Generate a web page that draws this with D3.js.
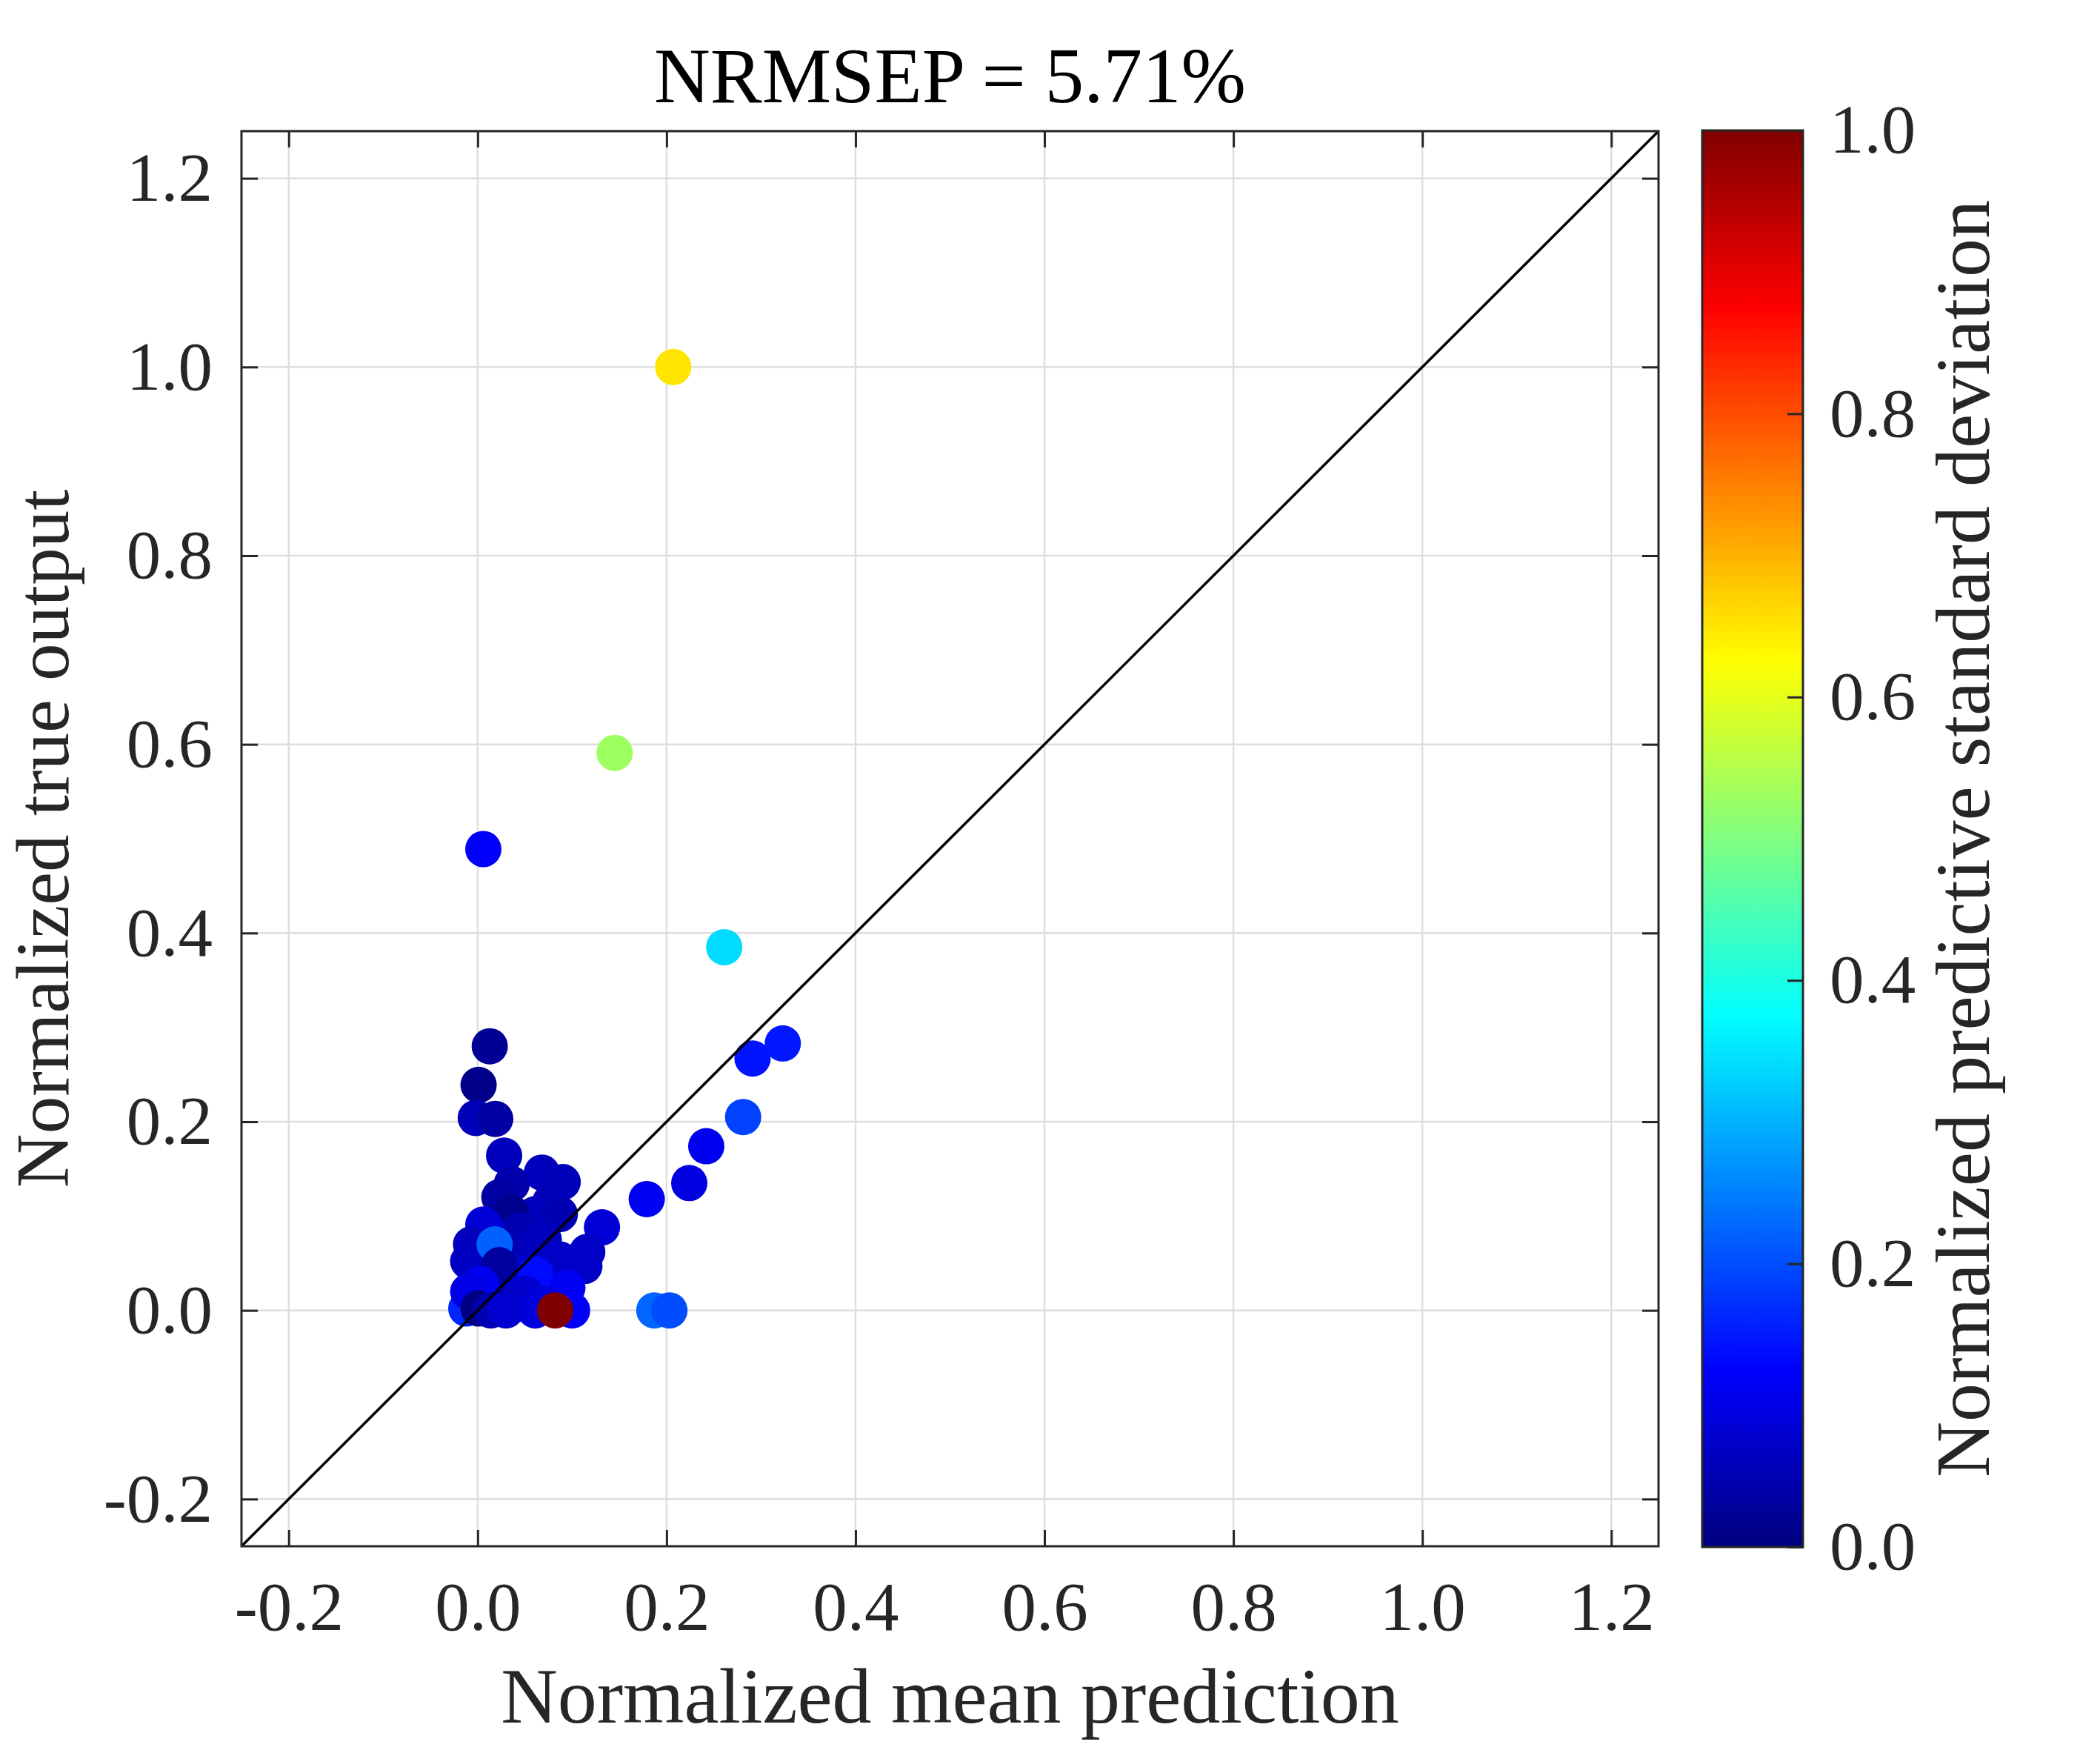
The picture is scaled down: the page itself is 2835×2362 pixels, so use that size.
<!DOCTYPE html>
<html>
<head>
<meta charset="utf-8">
<title>NRMSEP scatter</title>
<style>
  body { margin: 0; background: #fff; }
  text { font-family: "Liberation Serif", "DejaVu Serif", serif; fill: #262626; }
  .grid line { stroke: #dedede; stroke-width: 2.5; }
  .axis line { stroke: #262626; stroke-width: 3; }
  .axis path { display: none; }
  .axis text { font-size: 93px; }
</style>
</head>
<body>
<svg width="2835" height="2362"></svg>
<script src="https://d3js.org/d3.v7.min.js"></script>
<script>
// mean prediction (x), true output (y), predictive std (colour), all normalized
var predMean = [0.207, 0.145, 0.006, 0.261, 0.323, 0.291, 0.281, 0.242, 0.224, 0.179, 0.187, 0.203,
  0.0128, 0.001, -0.002, 0.0186, 0.028, 0.068, 0.090, 0.036, 0.023, 0.077, 0.061, 0.087, 0.035, 0.1316, 0.006,
  0.045, 0.055, 0.030, 0.070, 0.075, 0.040, 0.020, 0.055, 0.075, 0.035, 0.005, 0.015,
  0.010, -0.007, 0.087, 0.116, 0.113, -0.010, 0.018, 0.023, 0.061, 0.003, 0.095, 0.050,
  0.043, 0.069, -0.012, -0.010, 0.001, 0.027, 0.100, 0.061, 0.014, 0.030, 0.082];
var trueOut = [1.000, 0.591, 0.489, 0.385, 0.283, 0.267, 0.205, 0.174, 0.135, 0.118, 0.000, 0.000,
  0.280, 0.239, 0.204, 0.203, 0.164, 0.146, 0.136, 0.134, 0.120, 0.115, 0.102, 0.102, 0.104, 0.088, 0.091,
  0.085, 0.065, 0.060, 0.075, 0.050, 0.040, 0.025, 0.010, 0.020, 0.015, 0.010, 0.035,
  0.086, 0.070, 0.054, 0.062, 0.047, 0.052, 0.070, 0.048, 0.0385, 0.028, 0.024, 0.018,
  0.007, 0.007, 0.002, 0.020, 0.002, 0.002, 0.000, 0.000, 0.000, 0.000, 0.000];
var predStd = [0.65, 0.53, 0.12, 0.34, 0.148, 0.145, 0.19, 0.11, 0.095, 0.115, 0.225, 0.20,
  0.02, 0.01, 0.055, 0.035, 0.06, 0.06, 0.055, 0.045, 0.035, 0.055, 0.06, 0.05, 0.015, 0.085, 0.09,
  0.05, 0.06, 0.05, 0.06, 0.07, 0.08, 0.09, 0.07, 0.10, 0.06, 0.05, 0.07,
  0.085, 0.06, 0.07, 0.07, 0.07, 0.065, 0.22, 0.03, 0.135, 0.11, 0.115, 0.08,
  0.07, 0.09, 0.16, 0.10, 0.0, 0.04, 0.12, 0.09, 0.05, 0.08, 1.0];

var axisTicks = [-0.2, 0, 0.2, 0.4, 0.6, 0.8, 1.0, 1.2];
var cbTicks = [0, 0.2, 0.4, 0.6, 0.8, 1.0];
var titleText = "NRMSEP = 5.71%";

var svg = d3.select("svg");
var L = 326, R = 2239, T = 177, B = 2087;
var cbL = 2298, cbR = 2434, cbT = 176, cbB = 2088;

var x = d3.scaleLinear().domain([-0.25, 1.25]).range([L, R]);
var y = d3.scaleLinear().domain([-0.25, 1.25]).range([B, T]);
var c = d3.scaleLinear().domain([0, 1]).range([cbB, cbT]);

// MATLAB style jet colormap
function jet(v) {
  function ch(t) { return Math.max(0, Math.min(1, 1.5 - Math.abs(4 * t))); }
  var r = ch(v - 0.75), g = ch(v - 0.5), b = ch(v - 0.25);
  return d3.rgb(r * 255, g * 255, b * 255).formatHex();
}

var fmt = function (d) { return d.toFixed(1); };

// grid
var grid = svg.append("g").attr("class", "grid");
grid.selectAll(".gx").data(axisTicks).enter().append("line")
  .attr("x1", d => x(d)).attr("x2", d => x(d)).attr("y1", T).attr("y2", B);
grid.selectAll(".gy").data(axisTicks).enter().append("line")
  .attr("y1", d => y(d)).attr("y2", d => y(d)).attr("x1", L).attr("x2", R);

// points
svg.append("g").selectAll("circle")
  .data(predMean.map((d, i) => ({ x: d, y: trueOut[i], s: predStd[i] })))
  .enter().append("circle")
  .attr("cx", d => x(d.x))
  .attr("cy", d => y(d.y))
  .attr("r", 24.5)
  .attr("fill", d => jet(d.s));

// y = x line
svg.append("line")
  .attr("x1", x(-0.25)).attr("y1", y(-0.25))
  .attr("x2", x(1.25)).attr("y2", y(1.25))
  .attr("stroke", "#000").attr("stroke-width", 3.5);

// axes (ticks inside)
svg.append("g").attr("class", "axis").attr("transform", "translate(0," + B + ")")
  .call(d3.axisBottom(x).tickValues(axisTicks).tickFormat(fmt).tickSize(-22).tickPadding(47));
svg.append("g").attr("class", "axis").attr("transform", "translate(0," + T + ")")
  .call(d3.axisTop(x).tickValues(axisTicks).tickFormat("").tickSize(-22));
svg.append("g").attr("class", "axis").attr("transform", "translate(" + L + ",0)")
  .call(d3.axisLeft(y).tickValues(axisTicks).tickFormat(fmt).tickSize(-22).tickPadding(39));
svg.append("g").attr("class", "axis").attr("transform", "translate(" + R + ",0)")
  .call(d3.axisRight(y).tickValues(axisTicks).tickFormat("").tickSize(-22));

svg.append("rect")
  .attr("x", L).attr("y", T).attr("width", R - L).attr("height", B - T)
  .attr("fill", "none").attr("stroke", "#262626").attr("stroke-width", 3);

// colorbar
var grad = svg.append("defs").append("linearGradient")
  .attr("id", "jet").attr("x1", 0).attr("y1", 1).attr("x2", 0).attr("y2", 0);
grad.selectAll("stop").data(d3.range(0, 1.0001, 1 / 64)).enter().append("stop")
  .attr("offset", d => d).attr("stop-color", d => jet(d));
svg.append("rect")
  .attr("x", cbL).attr("y", cbT).attr("width", cbR - cbL).attr("height", cbB - cbT)
  .attr("fill", "url(#jet)").attr("stroke", "#262626").attr("stroke-width", 3);
svg.append("g").attr("class", "axis").attr("transform", "translate(" + cbR + ",0)")
  .call(d3.axisRight(c).tickValues(cbTicks).tickFormat(fmt).tickSize(-21).tickPadding(36));

// texts
svg.append("text").attr("x", (L + R) / 2).attr("y", 138)
  .attr("text-anchor", "middle").style("font-size", "105px").style("fill", "#000")
  .text(titleText);
svg.append("text").attr("x", (L + R) / 2).attr("y", 2325)
  .attr("text-anchor", "middle").style("font-size", "106px")
  .text("Normalized mean prediction");
svg.append("text")
  .attr("transform", "translate(92," + (T + B) / 2 + ") rotate(-90)")
  .attr("text-anchor", "middle").style("font-size", "101px")
  .text("Normalized true output");
svg.append("text")
  .attr("transform", "translate(2685," + (cbT + cbB) / 2 + ") rotate(-90)")
  .attr("text-anchor", "middle").style("font-size", "104px")
  .text("Normalized predictive standard deviation");
</script>
</body>
</html>
